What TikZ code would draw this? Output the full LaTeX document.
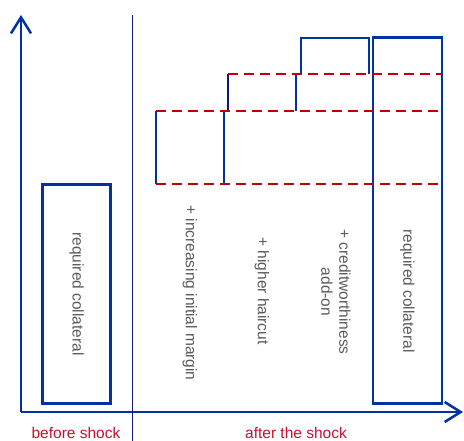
\documentclass[tikz,border=0pt]{standalone}
\usepackage{fontspec}
\setmainfont{Liberation Sans}
\usetikzlibrary{arrows.meta}
\definecolor{cblue}{RGB}{0,51,160}
\definecolor{cnavy}{RGB}{20,20,120}
\definecolor{cred}{RGB}{192,0,0}
\definecolor{ctxt}{RGB}{90,90,90}
\definecolor{clab}{RGB}{200,16,46}
\tikzset{
  axis/.style={draw=cblue, line width=2.5pt, -{Straight Barb[length=16pt,width=20pt,line width=2.5pt]}},
  bar/.style={draw=cblue, line width=2.8pt},
  stepline/.style={draw=cblue, line width=2.5pt},
  level/.style={draw=cred, line width=2.5pt, dash pattern=on 10pt off 6pt},
  vtext/.style={text=ctxt, font=\fontsize{15.5}{18}\selectfont, rotate=-90, inner sep=0pt, align=center},
  period/.style={text=clab, font=\fontsize{15.5}{18}\selectfont, inner sep=0pt},
}
\begin{document}
\begin{tikzpicture}[x=1pt,y=-1pt]
\useasboundingbox (0,0) rectangle (464,441);
% axes
\coordinate (O) at (21,412);
\coordinate (ytop) at (21,15);
\coordinate (xend) at (463,412);
\draw[axis] (O) -- (ytop);
\draw[axis] (O) -- (xend);
% divider
\coordinate (dtop) at (132.5,15);
\coordinate (dbot) at (132.5,441);
\draw[cnavy, line width=1.2pt] (dtop) -- (dbot);
% boxes
\node[bar, minimum width=68pt, minimum height=219pt, inner sep=0pt] (before) at (76.7,294) {};
\node[bar, minimum width=69pt, minimum height=366pt, inner sep=0pt] (after) at (407.5,220.5) {};
\node[vtext] (beforelab) at (before.center) {required collateral};
\node[vtext] (afterlab) at (407.5,291) {required collateral};
% levels
\coordinate (l1a) at (156,184); \coordinate (l1b) at (442,184);
\coordinate (l2a) at (156,111); \coordinate (l2b) at (442,111);
\coordinate (l3a) at (228,74);  \coordinate (l3b) at (442,74);
\draw[stepline] (l1a) -- (l2a);
\draw[stepline] (224,184) -- (224,111);
\draw[cnavy, line width=2.5pt] (l3a) -- (228,111);
\draw[stepline] (296,111) -- (296,74);
\draw[stepline] (301,74) -- (301,38) -- (369,38) -- (369,74);
\draw[level] (l1a) -- (l1b);
\draw[level] (l2a) -- (l2b);
\draw[level] (l3a) -- (l3b);
% step labels
\node[vtext] (m1) at (190,293) {+ increasing initial margin};
\node[vtext] (m2) at (262,291) {+ higher haircut};
\node[vtext] (m3) at (336,292) {+ creditworthiness\\add-on};
% period labels
\node[period] (p1) at (76,433) {before shock};
\node[period] (p2) at (296,433) {after the shock};
\end{tikzpicture}
\end{document}
